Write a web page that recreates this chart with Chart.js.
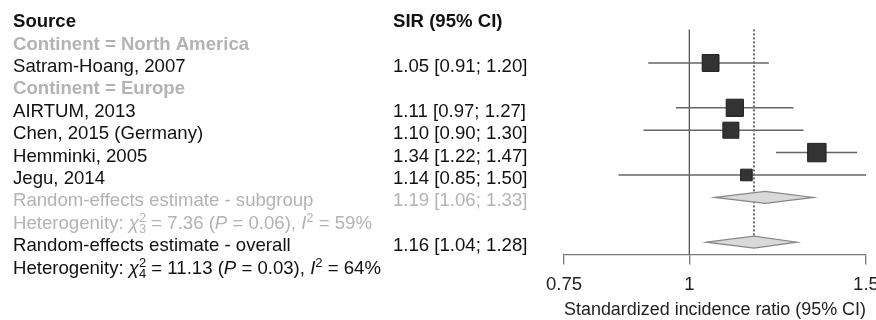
<!DOCTYPE html>
<html>
<head>
<meta charset="utf-8">
<script src="https://cdn.jsdelivr.net/npm/chart.js@4"></script>
<style>
  html, body { margin: 0; padding: 0; background: #fff; }
  #wrap { width: 876px; height: 320px; }
</style>
</head>
<body>
<div id="wrap"><canvas id="forest" width="876" height="320"></canvas></div>
<script>
// ── Datos ──────────────────────────────────────────────────
var studies   = ['Satram-Hoang, 2007', 'AIRTUM, 2013', 'Chen, 2015 (Germany)', 'Hemminki, 2005', 'Jegu, 2014'];
var studyRows = [2, 4, 5, 6, 7];
var sir       = [1.05, 1.11, 1.10, 1.34, 1.14];
var ciLow     = [0.91, 0.97, 0.90, 1.22, 0.85];
var ciHigh    = [1.20, 1.27, 1.30, 1.47, 1.50];
var weights   = [21, 21.5, 20, 23, 14.5];          // % peso (tamaño del cuadrado)

var groupLabels = ['Continent = North America', 'Continent = Europe'];
var groupRows   = [1, 3];

var poolLabels = ['Random-effects estimate - subgroup', 'Random-effects estimate - overall'];
var poolRows   = [8, 10];
var poolEst    = [1.19, 1.16];
var poolLow    = [1.06, 1.04];
var poolHigh   = [1.33, 1.28];

var hetRows = [9, 11];
var hetChi  = ['7.36', '11.13'];
var hetDf   = ['3', '4'];
var hetP    = ['0.06', '0.03'];
var hetI2   = ['59', '64'];

var tickVals = [0.75, 1, 1.5];
var refLine  = 1;

// ── Estilo ─────────────────────────────────────────────────
var FONT = '"Liberation Sans", Arial, Helvetica, sans-serif';
var FS = 18.6;
var BLACK = '#111';
var GRAY = '#b3b3b3';
var COL1_X = 13, COL2_X = 393;

function fmt(v) { return v.toFixed(2); }
function ciText(e, lo, hi) { return fmt(e) + ' [' + fmt(lo) + '; ' + fmt(hi) + ']'; }

// Texto con itálicas, superíndices y subíndices (estilo plotmath)
function drawRich(ctx, segs, x, y, color) {
  ctx.fillStyle = color;
  ctx.textBaseline = 'alphabetic';
  ctx.textAlign = 'left';
  segs.forEach(function (s) {
    if (s.supsub) {
      ctx.font = Math.round(FS * 0.7) + 'px ' + FONT;
      var w1 = ctx.measureText(s.supsub[0]).width, w2 = ctx.measureText(s.supsub[1]).width;
      ctx.fillText(s.supsub[0], x, y - 7);
      ctx.fillText(s.supsub[1], x, y + 4);
      x += Math.max(w1, w2);
    } else if (s.sup) {
      ctx.font = Math.round(FS * 0.7) + 'px ' + FONT;
      ctx.fillText(s.sup, x, y - 7);
      x += ctx.measureText(s.sup).width;
    } else {
      ctx.font = (s.i ? 'italic ' : '') + (s.b ? 'bold ' : '') + FS + 'px ' + FONT;
      ctx.fillText(s.t, x, y);
      x += ctx.measureText(s.t).width;
    }
  });
}

function hetSegs(k) {
  return [
    { t: 'Heterogenity: ' }, { t: 'χ', i: true }, { supsub: ['2', hetDf[k]] },
    { t: ' = ' + hetChi[k] + ' (' }, { t: 'P', i: true }, { t: ' = ' + hetP[k] + '), ' },
    { t: 'I', i: true }, { sup: '2' }, { t: ' = ' + hetI2[k] + '%' }
  ];
}

// ── Plugin: líneas de referencia, IC, diamantes y tabla ───
var forestPlugin = {
  id: 'forest',
  beforeDatasetsDraw: function (chart) {
    var ctx = chart.ctx, xs = chart.scales.x, ys = chart.scales.y, a = chart.chartArea;
    ctx.save();
    // línea vertical en 1
    ctx.strokeStyle = '#555'; ctx.lineWidth = 1.3;
    ctx.beginPath();
    ctx.moveTo(xs.getPixelForValue(refLine), a.top);
    ctx.lineTo(xs.getPixelForValue(refLine), a.bottom);
    ctx.stroke();
    // línea punteada en el estimado global
    var xo = xs.getPixelForValue(poolEst[1]);
    ctx.strokeStyle = '#444'; ctx.lineWidth = 1.5;
    ctx.setLineDash([2, 2]);
    ctx.beginPath();
    ctx.moveTo(xo, a.top);
    ctx.lineTo(xo, ys.getPixelForValue(poolRows[1]));
    ctx.stroke();
    ctx.setLineDash([]);
    // intervalos de confianza
    ctx.strokeStyle = '#666'; ctx.lineWidth = 1.5;
    studies.forEach(function (s, i) {
      var y = ys.getPixelForValue(studyRows[i]);
      ctx.beginPath();
      ctx.moveTo(xs.getPixelForValue(ciLow[i]), y);
      ctx.lineTo(xs.getPixelForValue(ciHigh[i]), y);
      ctx.stroke();
    });
    // diamantes
    poolRows.forEach(function (r, k) {
      var y = ys.getPixelForValue(r), h = 6;
      ctx.beginPath();
      ctx.moveTo(xs.getPixelForValue(poolLow[k]), y);
      ctx.lineTo(xs.getPixelForValue(poolEst[k]), y - h);
      ctx.lineTo(xs.getPixelForValue(poolHigh[k]), y);
      ctx.lineTo(xs.getPixelForValue(poolEst[k]), y + h);
      ctx.closePath();
      ctx.fillStyle = '#d9d9d9'; ctx.fill();
      ctx.strokeStyle = '#888'; ctx.lineWidth = 1.2; ctx.stroke();
    });
    ctx.restore();
  },
  afterDraw: function (chart) {
    var ctx = chart.ctx, ys = chart.scales.y;
    var base = function (r) { return ys.getPixelForValue(r) + 9; };
    ctx.save();
    drawRich(ctx, [{ t: 'Source', b: true }], COL1_X, base(0), BLACK);
    drawRich(ctx, [{ t: 'SIR (95% CI)', b: true }], COL2_X, base(0), BLACK);
    groupLabels.forEach(function (g, k) {
      drawRich(ctx, [{ t: g, b: true }], COL1_X, base(groupRows[k]), GRAY);
    });
    studies.forEach(function (s, i) {
      drawRich(ctx, [{ t: s }], COL1_X, base(studyRows[i]), BLACK);
      drawRich(ctx, [{ t: ciText(sir[i], ciLow[i], ciHigh[i]) }], COL2_X, base(studyRows[i]), BLACK);
    });
    poolLabels.forEach(function (p, k) {
      var c = k === 0 ? GRAY : BLACK;
      drawRich(ctx, [{ t: p }], COL1_X, base(poolRows[k]), c);
      drawRich(ctx, [{ t: ciText(poolEst[k], poolLow[k], poolHigh[k]) }], COL2_X, base(poolRows[k]), c);
      drawRich(ctx, hetSegs(k), COL1_X, base(hetRows[k]), c);
    });
    ctx.restore();
  }
};

new Chart(document.getElementById('forest'), {
  type: 'scatter',
  data: {
    datasets: [{
      data: studies.map(function (s, i) { return { x: sir[i], y: studyRows[i] }; }),
      pointStyle: 'rect',
      pointRadius: weights.map(function (w) { return w * 0.8 / Math.SQRT2; }),
      pointHoverRadius: weights.map(function (w) { return w * 0.8 / Math.SQRT2; }),
      backgroundColor: '#333',
      borderColor: '#1e1e1e',
      borderWidth: 1
    }]
  },
  options: {
    responsive: false,
    animation: false,
    devicePixelRatio: 1,
    layout: { autoPadding: false, padding: { left: 564, right: 10, top: 29.4, bottom: 0 } },
    plugins: { legend: { display: false }, tooltip: { enabled: false } },
    scales: {
      x: {
        type: 'logarithmic',
        min: 0.75, max: 1.5,
        bounds: 'data',
        afterBuildTicks: function (s) { s.ticks = tickVals.map(function (v) { return { value: v }; }); },
        // el eje ocupa la franja inferior; la etiqueta 1.5 queda recortada como en el original
        afterFit: function (s) { s.paddingLeft = 0; s.paddingRight = 10; s.height = 65.5; },
        ticks: {
          callback: function (v) { return String(v); },
          font: { family: FONT, size: FS },
          color: '#222', padding: 9, maxRotation: 0, autoSkip: false
        },
        grid: { drawOnChartArea: false, drawTicks: true, tickLength: 10, color: '#777', lineWidth: 1.3 },
        border: { display: true, color: '#777', width: 1.3 },
        title: {
          display: true, text: 'Standardized incidence ratio (95% CI)',
          font: { family: FONT, size: 18, lineHeight: 1 }, color: '#222',
          padding: { top: 6, bottom: 1 }
        }
      },
      y: { type: 'linear', display: false, reverse: true, min: 0.5, max: 10.55 }
    }
  },
  plugins: [forestPlugin]
});
</script>
</body>
</html>
